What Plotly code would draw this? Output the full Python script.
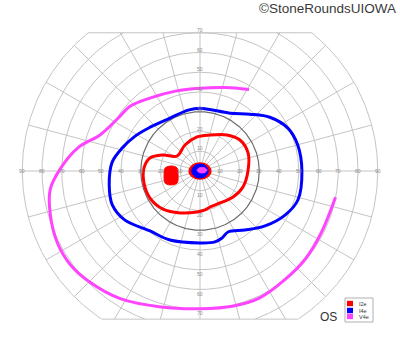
import numpy as np
import plotly.graph_objects as go

# ---------------- data (meridian angle in degrees, eccentricity in degrees) ----------------
v4e_theta = [59, 73, 90, 107, 124, 137, 147, 160, 169, 179, 187, 196, 207, 216, 225, 238, 254, 270, 284, 295, 308, 320, 333, 349]
v4e_r = [48.2, 44.2, 41.9, 42.3, 44.7, 48.2, 49.3, 53.7, 62.7, 70.7, 76.4, 78.9, 80.9, 81.0, 79.3, 76.2, 71.6, 69.7, 70.4, 71.0, 69.8, 69.5, 68.9, 69.9]

i4e_theta = [90, 101, 119.5, 138.7, 151.7, 163.6, 174.2, 188.7, 201.1, 213.2, 230.2, 246.5, 270, 281.9, 288.2, 294.7, 307.3, 319.8, 332.6, 343.5, 360, 374.9, 386, 397.6, 408.7, 422.6, 450]
i4e_r = [31.8, 31.4, 30.8, 33.6, 37.3, 41.1, 44.7, 46.5, 47.6, 45.4, 39.5, 38.1, 36.4, 36.7, 35.7, 34.0, 37.6, 43.1, 48.5, 51.7, 51.6, 51.2, 49.5, 44.6, 38.3, 33.0, 31.8]

i2e_theta = [0, 20.6, 37.8, 53.1, 74.5, 95, 120, 146.9, 156.6, 165.4, 176.9, 192.1, 208.4, 225.8, 244.5, 265.8, 277.3, 285.5, 302, 321.8, 339.6, 360]
i2e_r = [24.3, 26.0, 25.6, 22.8, 18.9, 17.3, 15.2, 13.9, 20.4, 26.2, 28.4, 29.0, 28.8, 26.9, 23.5, 20.8, 19.9, 18.9, 19.1, 21.3, 23.2, 24.3]

# scotoma (filled, I2e)
scot_theta = [186.3, 175.1, 169.9, 172.6, 190.3, 207.6, 205, 198.9]
scot_r = [18.3, 17.7, 14.4, 11.7, 11.3, 13.1, 16.7, 18.7]

# central filled islands
cen_theta = [0, 45, 90, 135, 180, 225, 270, 315]
cen_i2e_r = [5.5, 4.65, 4.1, 4.65, 5.5, 4.65, 4.1, 4.65]
cen_i4e_r = [4.2, 3.8, 3.5, 3.8, 4.2, 3.8, 3.5, 3.8]
cen_v4e_theta = [8.2, 31, 60.3, 108.4, 161.4, 236, 315, 343.3]
cen_v4e_r = [3.58, 2.95, 2.04, 1.6, 1.6, 0.91, 1.43, 2.64]

legend_labels = ["I2e", "I4e", "V4e"]
iso_colors = ["#ff0000", "#0000ff", "#ff44ff"]

ring_values = [10, 20, 30, 40, 50, 60, 70, 80, 90]
h_tick_labels = [10, 20, 30, 40, 50, 60, 70, 80, 90]
v_tick_labels = [10, 20, 30, 40, 50, 60, 70]

# ---------------- geometry ----------------
W, H = 400, 352
S = 1.975          # px per degree
CX, CY = 200, 171  # pixel position of fixation
TOP, BOT = 70, 75  # chart clip limits (deg)
GRID = "#c4c4c4"


def to_xy(theta, r):
    t = np.radians(np.asarray(theta, float))
    r = np.asarray(r, float)
    return r * np.cos(t), r * np.sin(t)


def px(x):
    return x / W


def py(y):
    return 1 - y / H


fig = go.Figure()

# rings
gx, gy = [], []
th = np.radians(np.linspace(0, 360, 1441))
for rv in ring_values:
    if rv == 30:
        continue
    x = rv * np.cos(th)
    y = rv * np.sin(th)
    bad = (y > TOP + 1e-6) | (y < -BOT - 1e-6)
    x[bad] = np.nan
    y[bad] = np.nan
    gx += list(x) + [np.nan]
    gy += list(y) + [np.nan]
# radial lines every 15 deg
for a in range(0, 360, 15):
    t = np.radians(a)
    rmax = 90.0
    if np.sin(t) > 1e-9:
        rmax = min(rmax, TOP / np.sin(t))
    elif np.sin(t) < -1e-9:
        rmax = min(rmax, BOT / -np.sin(t))
    gx += [0, rmax * np.cos(t), np.nan]
    gy += [0, rmax * np.sin(t), np.nan]
# clip lines
xt = np.sqrt(90 ** 2 - TOP ** 2)
xb = np.sqrt(90 ** 2 - BOT ** 2)
gx += [-xt, xt, np.nan, -xb, xb, np.nan]
gy += [TOP, TOP, np.nan, -BOT, -BOT, np.nan]

fig.add_trace(go.Scatter(x=gx, y=gy, mode="lines", line=dict(color=GRID, width=1),
                         hoverinfo="skip", showlegend=False))
# darker 30 deg ring
x30 = 30 * np.cos(th)
y30 = 30 * np.sin(th)
fig.add_trace(go.Scatter(x=x30, y=y30, mode="lines", line=dict(color="#6e6e6e", width=1.2),
                         hoverinfo="skip", showlegend=False))

# isopters
x, y = to_xy(v4e_theta, v4e_r)
fig.add_trace(go.Scatter(x=x, y=y, mode="lines", name="V4e",
                         line=dict(color=iso_colors[2], width=3, shape="spline", smoothing=1.0),
                         showlegend=False))
x, y = to_xy(i4e_theta, i4e_r)
fig.add_trace(go.Scatter(x=x, y=y, mode="lines", name="I4e",
                         line=dict(color=iso_colors[1], width=3, shape="spline", smoothing=1.0),
                         showlegend=False))
x, y = to_xy(i2e_theta, i2e_r)
fig.add_trace(go.Scatter(x=x, y=y, mode="lines", name="I2e",
                         line=dict(color=iso_colors[0], width=3, shape="spline", smoothing=1.0),
                         showlegend=False))

# scotoma
x, y = to_xy(scot_theta + scot_theta[:1], scot_r + scot_r[:1])
fig.add_trace(go.Scatter(x=x, y=y, mode="lines", fill="toself", fillcolor=iso_colors[0],
                         line=dict(color=iso_colors[0], width=1, shape="spline"), showlegend=False))

# central islands
for th_list, r_list, col, lw in [(cen_theta, cen_i2e_r, iso_colors[0], 1.5),
                                 (cen_theta, cen_i4e_r, iso_colors[1], 1),
                                 (cen_v4e_theta, cen_v4e_r, iso_colors[2], 0.8)]:
    x, y = to_xy(th_list + th_list[:1], r_list + r_list[:1])
    fig.add_trace(go.Scatter(x=x, y=y, mode="lines", fill="toself", fillcolor=col,
                             line=dict(color=col, width=lw, shape="spline"), showlegend=False))

annotations = []
# tick labels
for v in h_tick_labels:
    for sgn in (-1, 1):
        annotations.append(dict(x=sgn * v, y=0, xref="x", yref="y", text=str(v), showarrow=False,
                                font=dict(size=5, color="#8a8a8a", family="Liberation Sans, Arial"),
                                xanchor="center", yanchor="middle"))
for v in v_tick_labels:
    annotations.append(dict(x=0, y=v, xref="x", yref="y", text=str(v), showarrow=False, yshift=3,
                            font=dict(size=5, color="#8a8a8a", family="Liberation Sans, Arial"),
                            xanchor="center", yanchor="middle"))
    annotations.append(dict(x=0, y=-v, xref="x", yref="y", text=str(v), showarrow=False, yshift=-4,
                            font=dict(size=5, color="#8a8a8a", family="Liberation Sans, Arial"),
                            xanchor="center", yanchor="middle"))

annotations.append(dict(x=px(398), y=py(9), xref="paper", yref="paper", text="©StoneRoundsUIOWA",
                        showarrow=False, xanchor="right", yanchor="middle",
                        font=dict(size=13.5, color="#3a3a3a", family="Liberation Sans, Arial")))
annotations.append(dict(x=px(328), y=py(316.5), xref="paper", yref="paper", text="OS",
                        showarrow=False, xanchor="center", yanchor="middle",
                        font=dict(size=12, color="#333333", family="Liberation Sans, Arial")))

# manual legend
shapes = [dict(type="rect", xref="paper", yref="paper", x0=px(345), x1=px(373), y0=py(322), y1=py(298),
               line=dict(color="#b0b0b0", width=1), fillcolor="white", layer="above")]
row_y = [303.5, 310.5, 316.5]
for lab, col, ry in zip(legend_labels, iso_colors, row_y):
    shapes.append(dict(type="rect", xref="paper", yref="paper", x0=px(347), x1=px(353),
                       y0=py(ry + 2.7), y1=py(ry - 2.7), line=dict(width=0), fillcolor=col, layer="above"))
    annotations.append(dict(x=px(356.5), y=py(ry), xref="paper", yref="paper", text=lab, showarrow=False,
                            xanchor="left", yanchor="middle",
                            font=dict(size=5.5, color="#333333", family="Liberation Sans, Arial")))

fig.update_layout(
    width=W, height=H,
    margin=dict(l=0, r=0, t=0, b=0),
    paper_bgcolor="white", plot_bgcolor="white",
    xaxis=dict(range=[-CX / S, (W - CX) / S], visible=False, fixedrange=True),
    yaxis=dict(range=[-(H - CY) / S, CY / S], visible=False, fixedrange=True),
    annotations=annotations,
    shapes=shapes,
    showlegend=False,
)

fig.write_html("out.html")
